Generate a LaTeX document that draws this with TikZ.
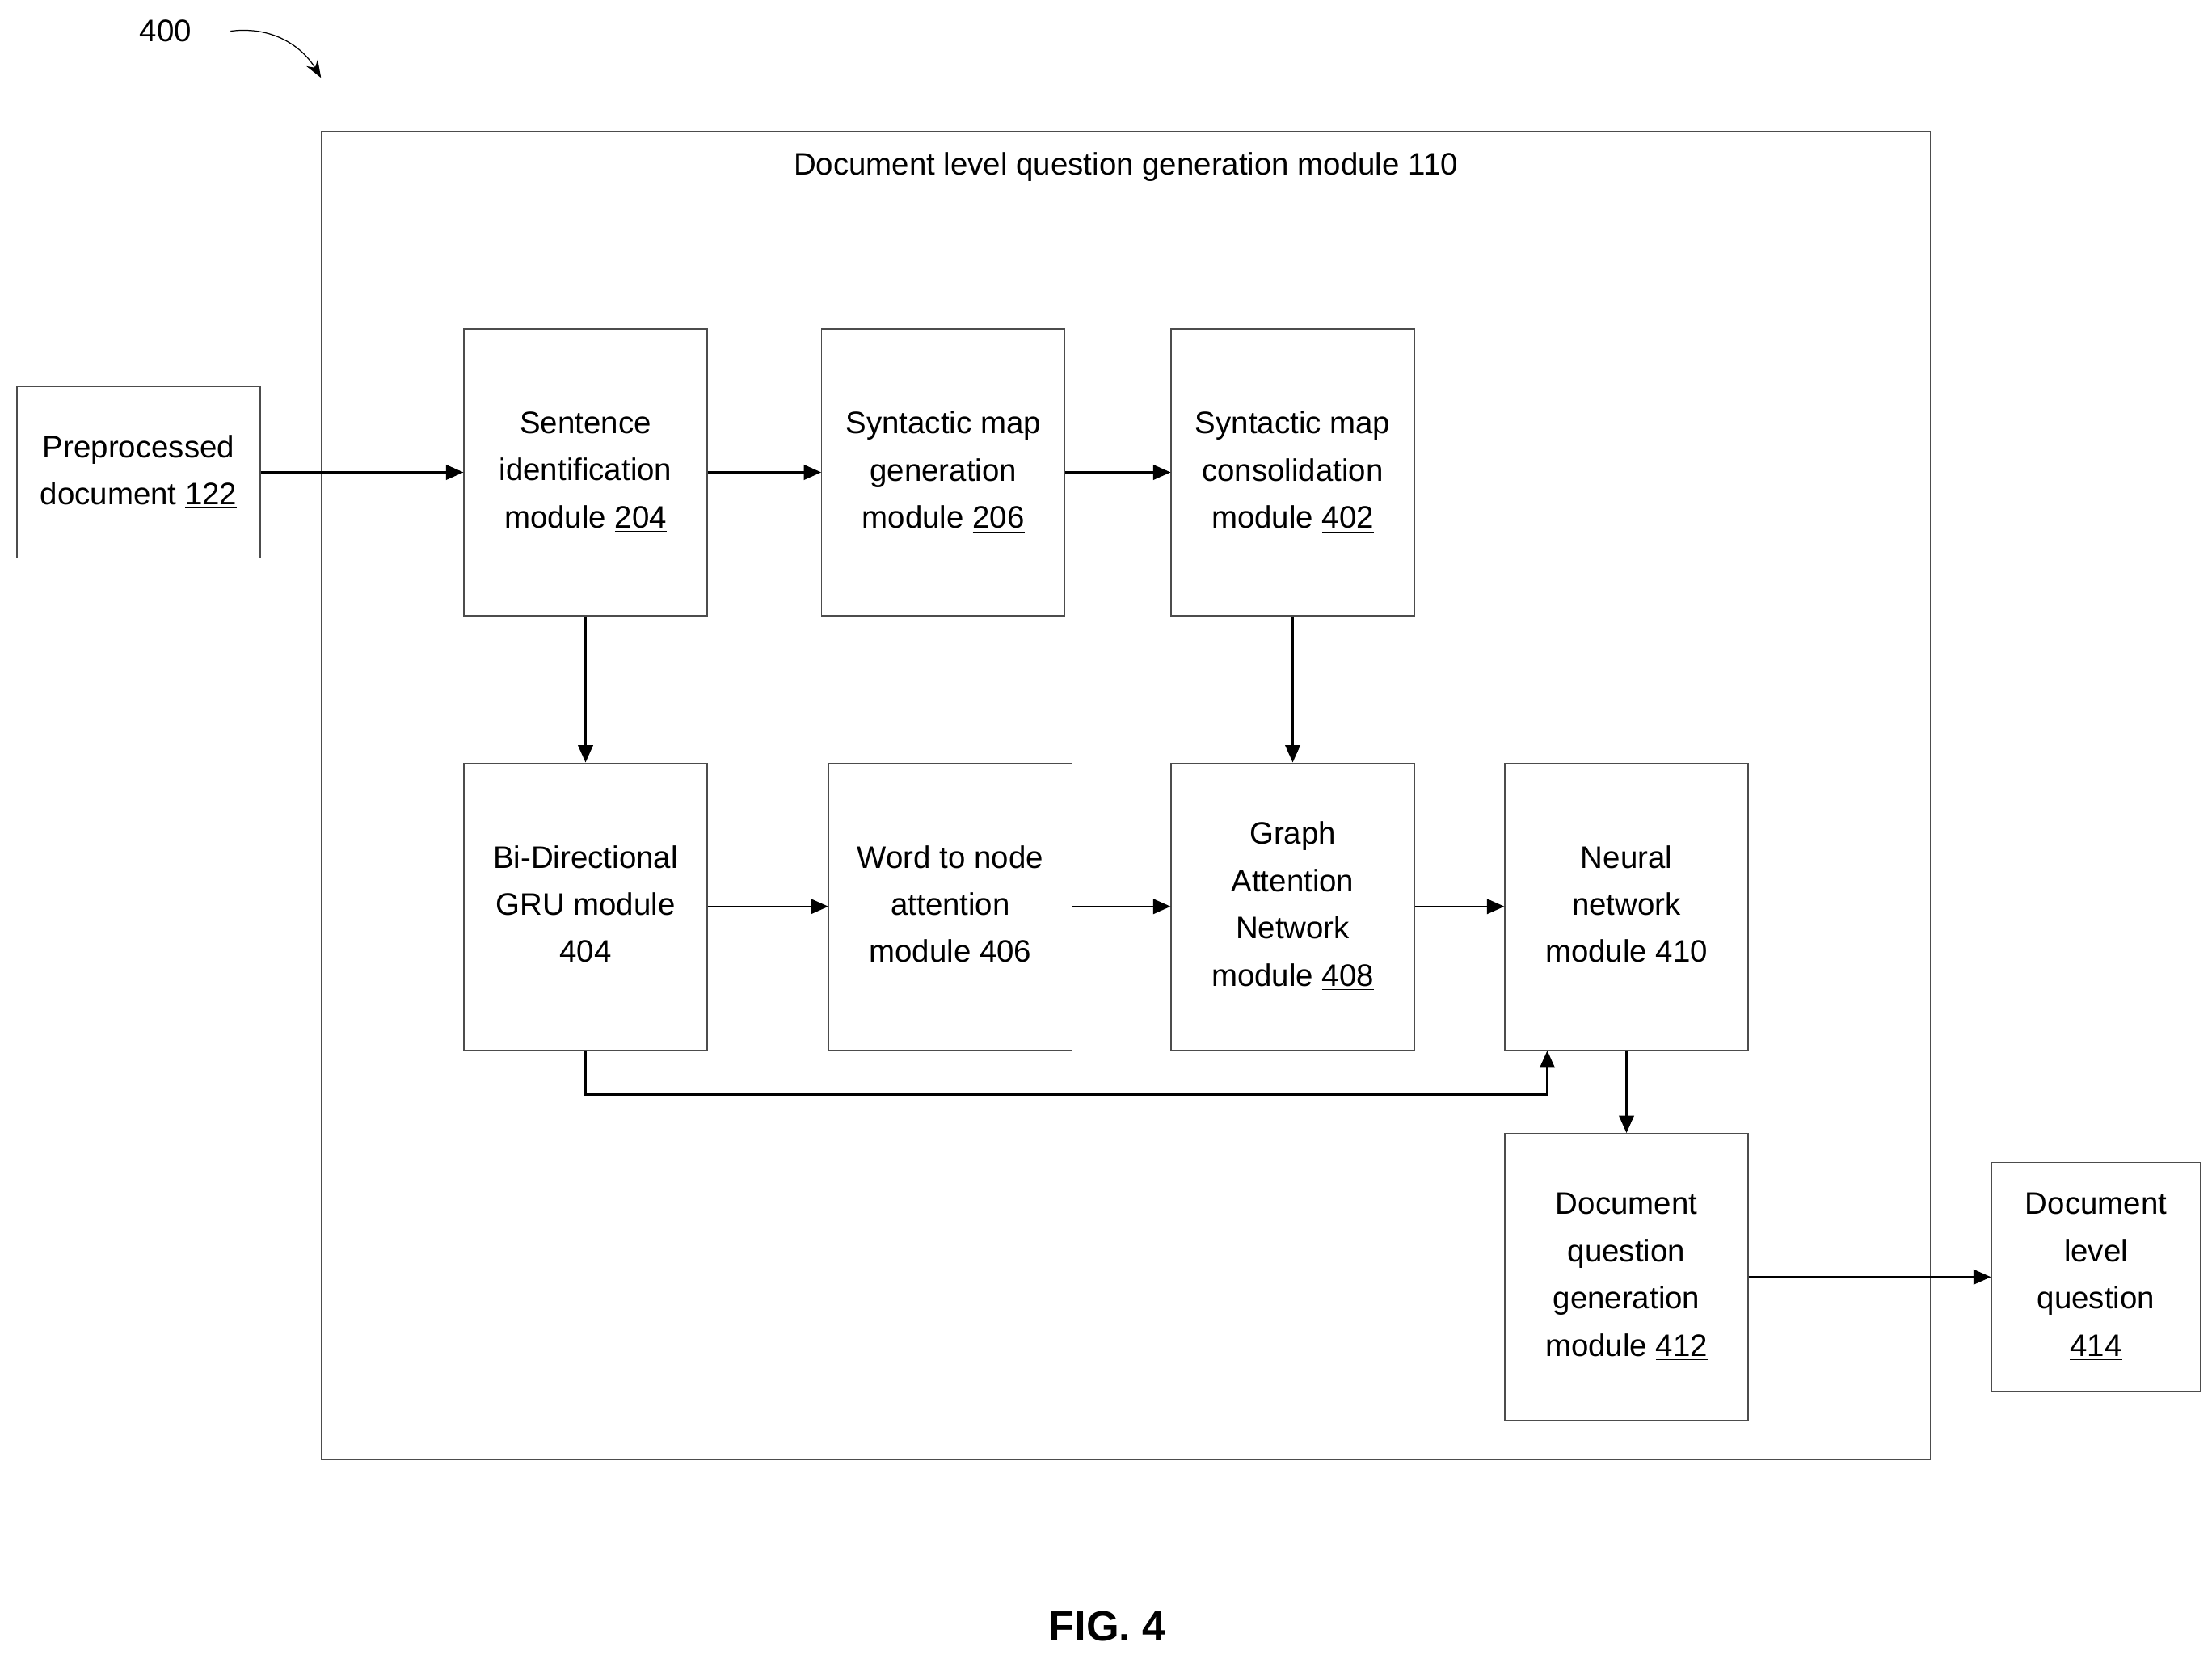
\documentclass[tikz,border=0pt]{standalone}
\usepackage{fontspec}
\setmainfont{Liberation Sans}
\usetikzlibrary{arrows.meta,positioning}
\tikzset{
  blk/.style={draw=black!70, minimum width=3.44cm, minimum height=4.06cm, align=center, font=\fontsize{12.5}{19}\selectfont, inner sep=1pt},
  flow/.style={-{Triangle[length=7pt,width=6pt]}, thick}
}
\begin{document}
\begin{tikzpicture}[x=0.02cm,y=-0.02cm]
\useasboundingbox (0,0) rectangle (1564,1173);
% outer module
\draw[black!70] (227,93) rectangle (1365,1032);
\node[font=\fontsize{12.5}{19}\selectfont] (title) at (796,118) {Document level question generation module \underline{110}};
\node[font=\fontsize{12.5}{19}\selectfont] (fig) at (117,22) {400};
\coordinate (figtip) at (227,55);
\draw[-{Stealth[length=7pt]}] (163,22) .. controls (195,18) and (215,35) .. (figtip);
% blocks
\node[blk, minimum width=3.44cm, minimum height=2.42cm] (pre) at (98,334) {Preprocessed\\document \underline{122}};
\node[blk] (sent) at (414,334) {Sentence\\identification\\module \underline{204}};
\node[blk] (synt) at (667,334) {Syntactic map\\generation\\module \underline{206}};
\node[blk] (cons) at (914,334) {Syntactic map\\consolidation\\module \underline{402}};
\node[blk] (gru) at (414,641) {Bi-Directional\\GRU module\\\underline{404}};
\node[blk] (word) at (672,641) {Word to node\\attention\\module \underline{406}};
\node[blk] (gat) at (914,641) {Graph\\Attention\\Network\\module \underline{408}};
\node[blk] (nn) at (1150,641) {Neural\\network\\module \underline{410}};
\node[blk] (dqg) at (1150,903) {Document\\question\\generation\\module \underline{412}};
\node[blk, minimum width=2.96cm, minimum height=3.24cm] (out) at (1482,903) {Document\\level\\question\\\underline{414}};
\node[font=\fontsize{17}{20}\selectfont\bfseries] (cap) at (783,1150) {FIG. 4};
% connectors
\draw[flow] (pre) -- (sent);
\draw[flow] (sent) -- (synt);
\draw[flow] (synt) -- (cons);
\draw[flow] (sent) -- (gru);
\draw[flow] (cons) -- (gat);
\draw[flow] (gru) -- (word);
\draw[flow] (word) -- (gat);
\draw[flow] (gat) -- (nn);
\draw[flow] (nn) -- (dqg);
\draw[flow] (dqg) -- (out);
\draw[flow] (gru.south) |- (1094,774) -- (nn.south -| 1094,0);
\end{tikzpicture}
\end{document}
